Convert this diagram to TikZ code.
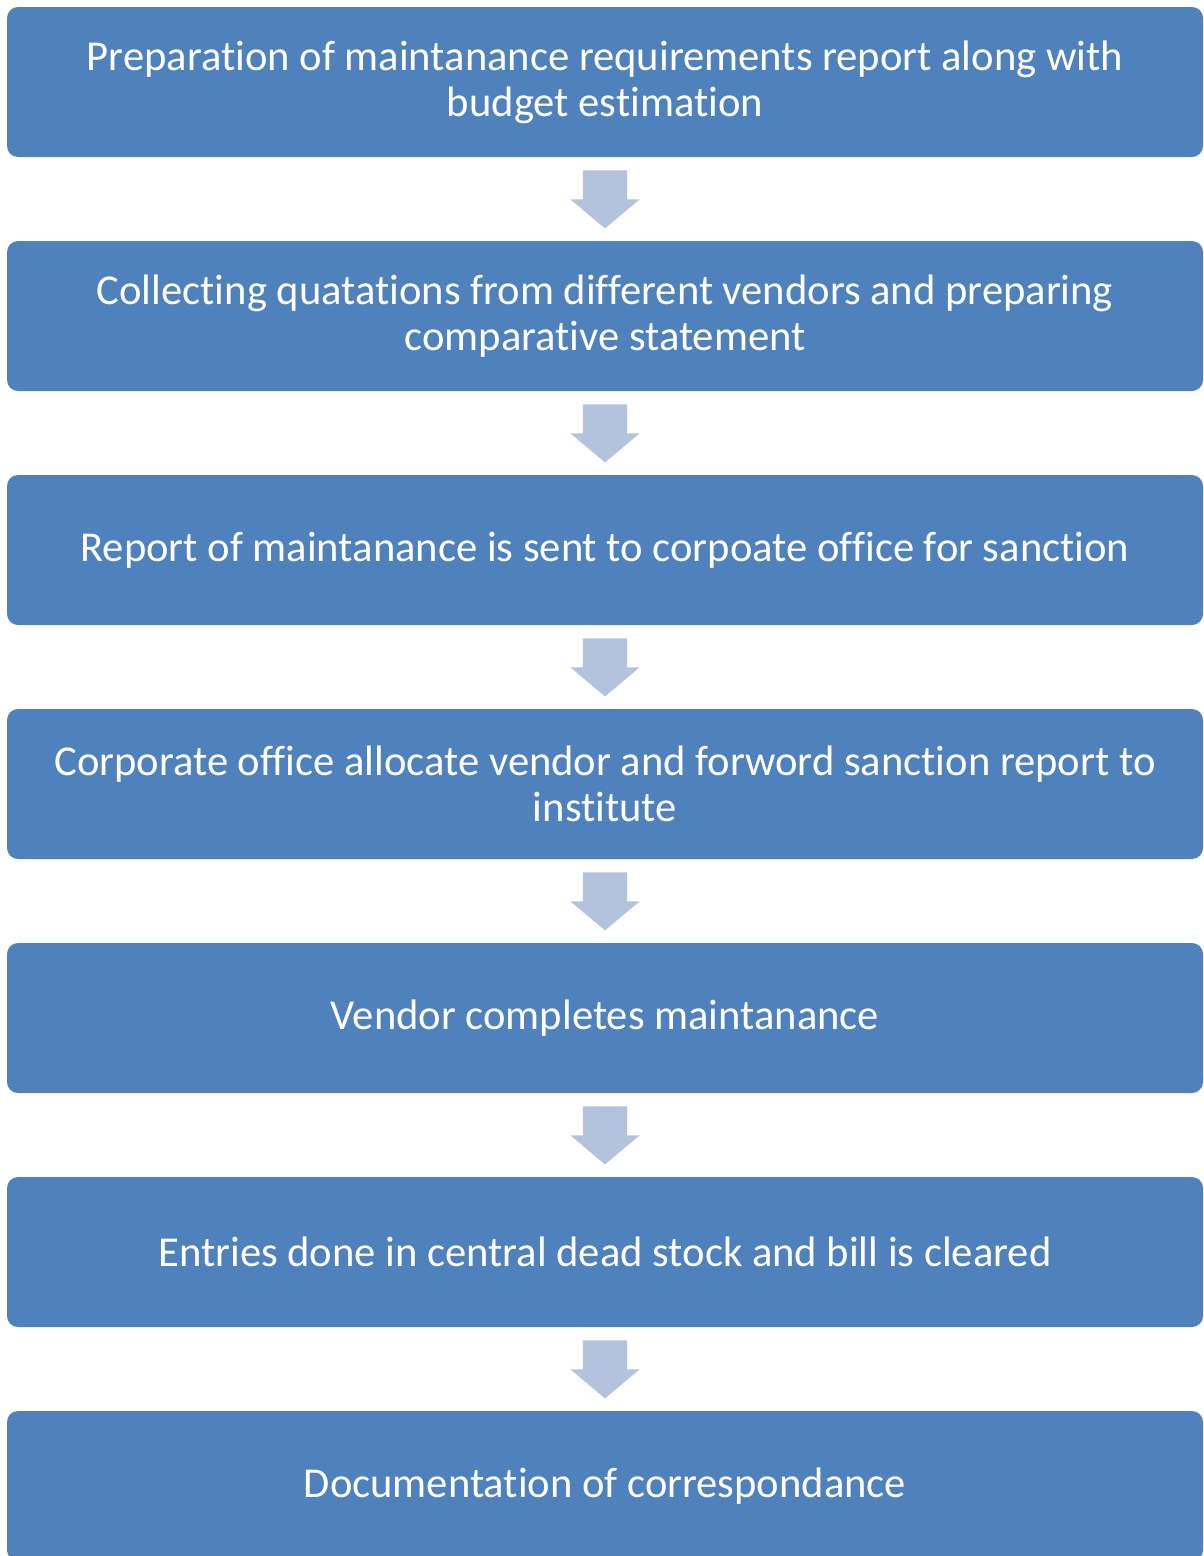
\documentclass[tikz,border=0pt]{standalone}
\usepackage{fontspec}
\setmainfont[Ligatures=NoCommon]{Carlito}
\usepackage{tikz}
\usetikzlibrary{shapes,shapes.arrows}
\usetikzlibrary{calc}
\definecolor{stepblue}{HTML}{4F81BD}
\definecolor{arrowblue}{HTML}{B3C3DE}
\tikzstyle{stepbox}=[rectangle,rounded corners=11pt,fill=stepblue,draw=none,text=white,align=center,minimum width=1196pt,minimum height=150pt,inner sep=0pt,font=\fontsize{42.6}{46}\selectfont]
\tikzstyle{downarrow}=[single arrow,fill=arrowblue,draw=none,rotate=-90,anchor=tail,minimum height=58pt,inner xsep=0pt,inner ysep=22pt,single arrow head extend=12.5pt,single arrow tip angle=100]

\begin{document}
\begin{tikzpicture}[x=1pt,y=-1pt]
    \useasboundingbox (0,0) rectangle (1203,1556);
    % First we draw the steps
    \foreach \pos/\name/\label in {{(605,82)/s1/Preparation of maintanance requirements report along with\\budget estimation},
    {(605,316)/s2/Collecting quatations from different vendors and preparing\\comparative statement},
    {(605,550)/s3/Report of maintanance is sent to corpoate office for sanction},
    {(605,784)/s4/Corporate office allocate vendor and forword sanction report to\\institute},
    {(605,1018)/s5/Vendor completes maintanance},
    {(605,1252)/s6/Entries done in central dead stock and bill is cleared},
    {(605,1486)/s7/Documentation of correspondance}}
        \node[stepbox] (\name) at \pos {\label};

    % Block arrows between the steps
    \foreach \source/\dest in {s1/s2, s2/s3, s3/s4, s4/s5, s5/s6, s6/s7}
        \node[downarrow] (\source-\dest) at ([yshift=-13pt]\source.south) {};
\end{tikzpicture}
\end{document}
